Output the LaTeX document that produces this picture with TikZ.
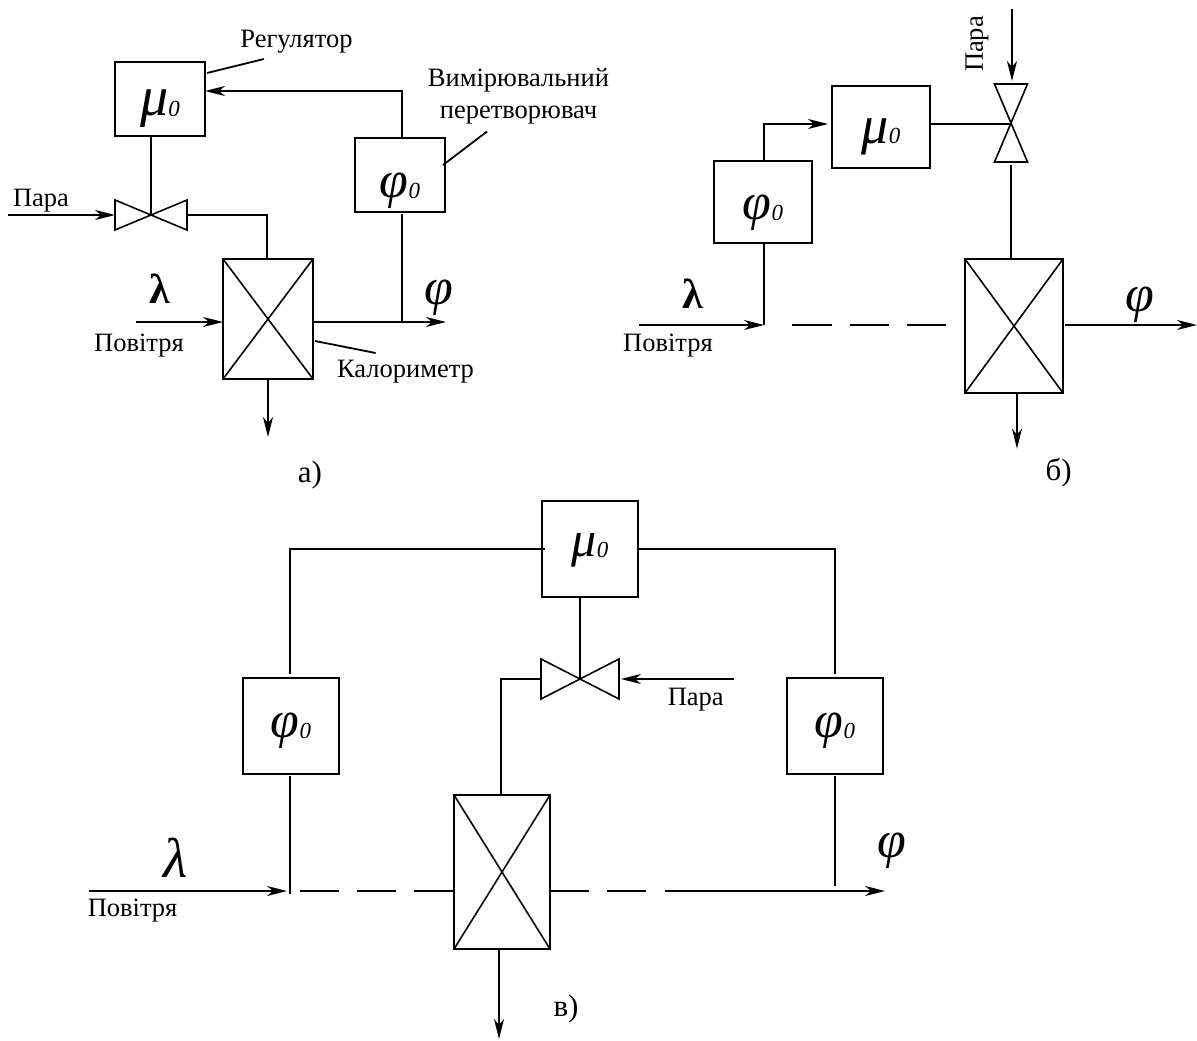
\documentclass[tikz,border=0pt]{standalone}
\usepackage{fontspec}
\setmainfont{Liberation Serif}
\usepackage{tikz}
\usetikzlibrary{arrows.meta,positioning}

\newcommand{\symPhi}[1]{{\fontsize{#1}{#1}\selectfont\itshape φ}}
\newcommand{\zeroSub}{\raisebox{-1pt}{\fontsize{23}{23}\selectfont\itshape 0}}
% size of the letter, then how far its baseline sits under the box centre
\newcommand{\regMu}[2]{\smash{\raisebox{-#2pt}{{\fontsize{#1}{#1}\selectfont\itshape μ}\zeroSub}}}
\newcommand{\sensPhi}[2]{\smash{\raisebox{-#2pt}{\symPhi{#1}\zeroSub}}}
\newcommand{\lamDot}{{\fontsize{42}{42}\selectfont\bfseries λ}{\fontsize{6}{6}\selectfont .}}

\begin{document}
\begin{tikzpicture}[
    x=1pt, y=-1pt,
    line width=1.8pt,
    >={Stealth[length=20pt,width=10pt,inset=6pt]},
    box/.style={rectangle, draw, inner sep=0pt, outer sep=0pt},
    boxa/.style={box, minimum width=90pt, minimum height=74pt},
    boxb/.style={box, minimum width=98pt, minimum height=82pt},
    boxc/.style={box, minimum width=96pt, minimum height=96pt},
    valveh/.style={rectangle, inner sep=0pt, outer sep=0pt, minimum width=72pt, minimum height=30pt},
    valvev/.style={rectangle, inner sep=0pt, outer sep=0pt, minimum width=33pt, minimum height=78pt},
    lbl/.style={inner sep=0pt, font=\fontsize{26.5}{32}\selectfont, align=center},
    caption/.style={inner sep=0pt, font=\fontsize{31}{31}\selectfont},
    sym/.style={inner sep=0pt},
    arrow/.style={->},
    dashline/.style={dash pattern=on 39.3pt off 18pt}
]
\useasboundingbox (0,0) rectangle (1197,1041);

% panel a
\node[boxa] (regA) at (160,99) {\regMu{56}{17}};
\node[boxa, below right=2pt and 150pt of regA] (phiA) {\sensPhi{52}{22}};
\node[valveh] (valveA) at (151,215) {};
\node[box, minimum width=90pt, minimum height=120pt] (calA) at (268,319) {};
\node[lbl] (regLbl) at (296.5,42) {Регулятор};
\node[lbl] (convLbl) at (518.5,96) {Вимірювальний\\перетворювач};
\node[lbl] (calLbl) at (405.5,372) {Калориметр};
\node[lbl] (steamLblA) at (41,201) {Пара};
\node[lbl] (airLblA) at (139,346) {Повітря};
\node[caption] (capA) at (310,475) {а)};
\node[sym] (lamA) at (161,289) {\lamDot};
\node[sym] (outLblA) at (439,298) {\symPhi{52}};

\coordinate (steamA) at (8,215);
\coordinate (airA) at (135.5,322);
\coordinate (outA) at (446,322);
\coordinate (tapA) at (402,91);
\coordinate (dropA) at (268,437);
\coordinate (bendA) at (267,215);
\coordinate (regEnd) at (264,59);
\coordinate (regStart) at (207,73);
\coordinate (convEnd) at (487,131.5);
\coordinate (convStart) at (443,165);
\coordinate (calEnd) at (375.6,353);
\coordinate (calStart) at (315,341);

\draw[arrow] (phiA.north -| tapA) -- (tapA) -- (tapA -| regA.east);
\draw (regA.south -| valveA) -- (valveA.center);
\draw[arrow] (steamA) -- (valveA.west);
\draw (valveA.east) -- (bendA) -- (bendA |- calA.north);
\draw[arrow] (airA) -- (airA -| calA.west);
\draw[arrow] (airA -| calA.east) -- (outA);
\draw ([yshift=-2pt]phiA.south -| tapA) -- (tapA |- outA);
\draw[arrow] (calA.south) -- (dropA);
\draw (regStart) -- (regEnd);
\draw (convStart) -- (convEnd);
\draw (calStart) -- (calEnd);

% panel b
\node[boxb] (regB) at (881,127) {\regMu{54}{16}};
\node[boxb, below left=-7pt and 20pt of regB] (phiB) {\sensPhi{52}{17}};
\node[valvev] (valveB) at (1011,123) {};
\node[box, minimum width=98pt, minimum height=134pt] (calB) at (1014,326) {};
\node[lbl, rotate=90] (steamLblB) at (977,44) {Пара};
\node[lbl] (airLblB) at (668,346) {Повітря};
\node[caption] (capB) at (1058.7,473) {б)};
\node[sym] (lamB) at (693.5,294) {\lamDot};
\node[sym] (outLblB) at (1140,305) {\symPhi{52}};

\coordinate (steamB) at (1012,9);
\coordinate (airB) at (638.5,325);
\coordinate (outB) at (1197,325);
\coordinate (tapB) at (764,124);
\coordinate (dropB) at (1017,448.6);

\draw[arrow] (phiB.north -| tapB) -- (tapB) -- ([xshift=-4pt]tapB -| regB.west);
\draw (regB.east |- tapB) -- (tapB -| valveB);
\draw[arrow] (steamB) -- ([yshift=3pt]steamB |- valveB.north);
\draw ([yshift=-3pt]valveB.south) -- (valveB |- calB.north);
\draw (phiB.south -| tapB) -- (tapB |- airB);
\draw[arrow] (airB) -- (airB -| tapB);
\draw[dashline, shorten <=28.4pt, shorten >=18.7pt] (airB -| tapB) -- (airB -| calB.west);
\draw[arrow] ([xshift=2pt]airB -| calB.east) -- (outB);
\draw[arrow] (dropB |- calB.south) -- (dropB);

% panel c
\node[boxc] (regC) at (590,549) {\regMu{50}{7}};
\node[boxc, below left=81pt and 203pt of regC] (phiL) {\sensPhi{52}{11}};
\node[boxc, below right=81pt and 149pt of regC] (phiR) {\sensPhi{52}{11}};
\node[valveh, minimum width=78pt, minimum height=40pt] (valveC) at (580,679) {};
\node[box, minimum width=96pt, minimum height=154pt] (calC) at (502,872) {};
\node[lbl] (steamLblC) at (695.7,700) {Пара};
\node[lbl] (airLblC) at (132.6,911) {Повітря};
\node[caption] (capC) at (566,1009) {в)};
\node[sym] (lamC) at (176,858) {\fontsize{56}{56}\selectfont\itshape λ};
\node[sym] (outLblC) at (892,851) {\symPhi{52}};

\coordinate (steamC) at (734,679);
\coordinate (airC) at (88.7,891);
\coordinate (dashC) at (646,891);
\coordinate (solidC) at (664.6,891);
\coordinate (outC) at (885,891);
\coordinate (tapL) at (290,549);
\coordinate (tapR) at (835,549);
\coordinate (bendC) at (501,679);
\coordinate (dropC) at (499,1039);

\draw ([xshift=3pt]tapL -| regC.west) -- (tapL) -- ([yshift=4pt]tapL |- phiL.north);
\draw ([xshift=-1pt]tapR -| regC.east) -- (tapR) -- ([yshift=4pt]tapR |- phiR.north);
\draw (regC.south -| valveC) -- (valveC.center);
\draw[arrow] (steamC) -- ([xshift=2pt]valveC.east);
\draw (valveC.west) -- (bendC) -- (bendC |- calC.north);
\draw ([yshift=-2pt]phiL.south -| tapL) -- ([yshift=-3pt]tapL |- airC);
\draw[arrow] (airC) -- ([xshift=-3pt]airC -| tapL);
\draw[dashline, shorten <=9.7pt] (airC -| tapL) -- (airC -| calC.west);
\draw[dashline] (airC -| calC.east) -- (dashC);
\draw[arrow] (solidC) -- (outC);
\draw ([yshift=-2pt]phiR.south -| tapR) -- ([yshift=5pt]tapR |- airC);
\draw[arrow] (dropC |- calC.south) -- (dropC);

% crossed boxes
\foreach \cal in {calA,calB,calC} {
    \draw[line width=1.6pt] (\cal.north west) -- (\cal.south east);
    \draw[line width=1.6pt] (\cal.north east) -- (\cal.south west);
}
% valve bodies
\foreach \val in {valveA,valveC} {
    \draw[line width=1.6pt] (\val.north west) -- (\val.south east) -- (\val.north east) -- (\val.south west) -- cycle;
}
\draw[line width=1.6pt] (valveB.north west) -- (valveB.south east) -- (valveB.south west) -- (valveB.north east) -- cycle;
\end{tikzpicture}
\end{document}
